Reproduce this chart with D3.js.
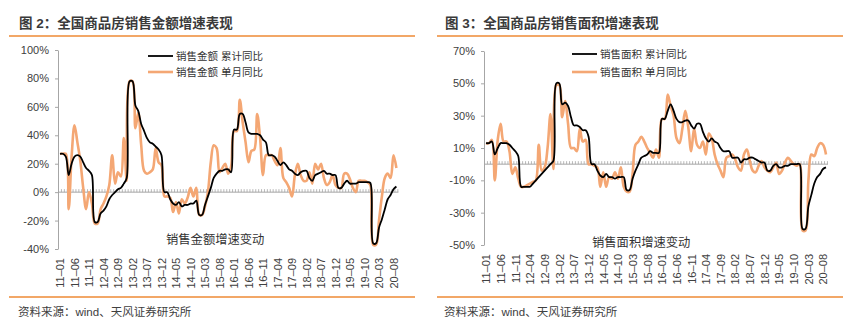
<!DOCTYPE html>
<html><head><meta charset="utf-8">
<script src="https://cdn.jsdelivr.net/npm/d3@7"></script>
<style>
body{margin:0;background:#fff;}
svg text{font-family:"Liberation Sans",Arial,"Noto Sans CJK SC",sans-serif;}
</style></head><body>
<svg id="c" width="851" height="328"></svg>
<script>
// ---- categories: monthly, 2011-01 .. 2020-09 ----
const months = d3.timeMonth.range(new Date(2011,0,1), new Date(2020,9,1));
const tickLabels = ["11–01","11–06","11–11","12–04","12–09","13–02","13–07","13–12","14–05","14–10","15–03","15–08","16–01","16–06","16–11","17–04","17–09","18–02","18–07","18–12","19–05","19–10","20–03","20–08"];

// ---- series (%), Jan shown with the Jan–Feb value ----
const amountCum = [
 27,27,25,12,20,25,26,25,21,17,15,12,
 -21,-21,-15,-13,-10,-5,-2,0,2,3,6,10,
 78,78,61,57,48,43,38,35,34,32,30,26,
 0,0,-5,-8,-9,-7,-10,-9,-9,-8,-8,-6,
 -16,-16,-9,-3,3,10,13,15,15,16,16,14,
 44,44,55,55,49,42,41,41,41,40,37,35,
 26,26,25,22,19,21,19,16,15,13,12,14,
 15,15,10,8,12,13,14,15,13,13,12,12,
 3,3,6,8,6,6,6,7,7,7,7,6.5,
 -36,-36,-25,-19,-12,-5,-2,2,4];
const amountMonth = [
 27,27,27,-12,25,47,35,22,3,-12,0,-8,
 -22,-22,-12,-8,-3,5,26,6,14,11,38,8,
 78,78,45,56,33,15,13,14,16,31,21,19,
 -3,-3,-4,-14,-7,-15,-5,-8,-4,3,-3,3,
 -16,-16,-10,0,21,33,31,14,17,20,13,18,
 43,43,65,49,35,21,29,30,55,38,12,26,
 26,26,22,19,31,10,7,3,-3,12,20,12,
 8,8,14,6,20,16,20,10,5,7,12,5,
 3,3,13,13,9,3,0,8,8,8,7,5,
 -37,-37,-20,-3,10,13,10,26,17];
const areaCum = [
 13,13,14,6,10,13,13,13,12,10,8,5,
 -14,-14,-14,-14,-12,-10,-8,-6,-4,-2,0,2,
 50,50,37,38,36,29,24,24,23,21,21,17,
 0,0,-4,-7,-8,-6,-8,-8,-9,-8,-8,-8,
 -16,-16,-9,-4,0,4,5,6,8,7,7,7,
 28,28,33,37,33,28,26,26,27,27,24,22,
 25,25,20,16,14,16,14,13,10,8,8,8,
 4,4,4,1,3,3,4,4,3,2,1,1,
 -4,-4,-1,0,-2,-2,-1,-1,0,0,0,0,
 -40,-40,-26,-19,-12,-8,-6,-3,-2];
const areaMonth = [
 13,13,15,-10,15,25,14,14,8,-6,-2,-9,
 -14,-14,-13,-12,-11,-10,12,-4,-2,10,31,-3,
 49,49,29,39,25,10,10,8,22,14,15,0,
 0,-1,-2,-14,-5,-14,-8,-9,-5,-9,-2,-14,
 -17,-17,-6,12,14,17,14,10,7,4,9,4,
 28,28,43,36,30,16,13,22,33,23,8,22,
 12,10,14,6,19,16,6,0,-4,-8,4,5,
 6,3,-2,-4,6,9,2,-4,-5,-1,2,-2,
 -4,-5,-2,1,-6,-4,1,4,2,0,-1,0,
 -41,-41,-10,6,5,10,13,12,6];

const leftCfg = {
  title:"图 2：全国商品房销售金额增速表现", panelX0:9, panelX1:415, textX:19,
  xr:[60,396.4], yr:[249,50], dom:[-40,100], yTicks:[-40,-20,0,20,40,60,80,100], axisX:58,
  cum:amountCum, mon:amountMonth, legCum:"销售金额 累计同比", legMon:"销售金额 单月同比",
  legX:148, legY:[56,72], note:"销售金额增速变动", noteX:166, noteY:244
};
const rightCfg = {
  title:"图 3：全国商品房销售面积增速表现", panelX0:437, panelX1:843, textX:445,
  xr:[486,826], yr:[245,51], dom:[-50,70], yTicks:[-50,-30,-10,10,30,50,70], axisX:484,
  cum:areaCum, mon:areaMonth, legCum:"销售面积 累计同比", legMon:"销售面积 单月同比",
  legX:572, legY:[54,72], note:"销售面积增速变动", noteX:592, noteY:247
};

const svg = d3.select("#c");
const ORANGE = "#F4A774", DIV = "#EE8A34", AX = "#A6A6A6", TXT = "#404040";

function draw(c){
  const g = svg.append("g");
  g.append("text").attr("x",c.textX).attr("y",28).text(c.title)
    .attr("font-size",13.5).attr("font-weight","bold").attr("fill","#3a3a3a");
  g.append("line").attr("x1",c.panelX0).attr("x2",c.panelX1).attr("y1",36).attr("y2",36)
    .attr("stroke",DIV).attr("stroke-width",1.5);
  g.append("line").attr("x1",c.panelX0).attr("x2",c.panelX1).attr("y1",297).attr("y2",297)
    .attr("stroke",DIV).attr("stroke-width",1.5);
  g.append("text").attr("x",c.textX-1).attr("y",316).text("资料来源：wind、天风证券研究所")
    .attr("font-size",11.5).attr("fill",TXT);

  const x = d3.scalePoint().domain(months).range(c.xr);
  const y = d3.scaleLinear().domain(c.dom).range(c.yr);

  // y axis
  const ya = g.append("g").attr("transform",`translate(${c.axisX},0)`)
    .call(d3.axisLeft(y).tickValues(c.yTicks).tickFormat(d=>d+"%").tickSize(3).tickSizeOuter(0).tickPadding(6));
  ya.select(".domain").attr("stroke",AX);
  ya.selectAll(".tick line").attr("stroke",AX);
  ya.selectAll("text").attr("font-size",11).attr("fill",TXT).attr("font-family","Liberation Sans, Arial, sans-serif");

  // zero line with monthly tick marks
  const y0 = y(0);
  g.append("line").attr("x1",c.axisX).attr("x2",c.xr[1]+2).attr("y1",y0).attr("y2",y0)
    .attr("stroke",AX).attr("stroke-width",1);
  g.append("g").selectAll("line").data(months).join("line")
    .attr("x1",d=>x(d)+1.45).attr("x2",d=>x(d)+1.45).attr("y1",y0-3).attr("y2",y0)
    .attr("stroke",AX).attr("stroke-width",0.8);

  // x axis labels (rotated)
  const tv = months.filter((d,i)=>i%5===0);
  const xa = g.append("g").attr("transform",`translate(0,${c.yr[0]})`)
    .call(d3.axisBottom(x).tickValues(tv).tickFormat((d,i)=>tickLabels[i]).tickSize(0));
  xa.select(".domain").remove();
  xa.selectAll("text").attr("transform","rotate(-90)").attr("text-anchor","end")
    .attr("x",-9).attr("y",0).attr("dy","0.35em").attr("font-size",11).attr("fill",TXT)
    .attr("font-family","Liberation Sans, Arial, sans-serif");

  // annotation
  g.append("text").attr("x",c.noteX).attr("y",c.noteY).text(c.note)
    .attr("font-size",12.3).attr("fill","#333");

  const line = d3.line().x((d,i)=>x(months[i])).y(d=>y(d)).curve(d3.curveCatmullRom.alpha(0.5));
  g.append("path").attr("d",line(c.mon)).attr("fill","none").attr("stroke",ORANGE).attr("stroke-width",2.6);
  g.append("path").attr("d",line(c.cum)).attr("fill","none").attr("stroke","#000").attr("stroke-width",1.8);

  // legend
  const lg = g.append("g");
  [[c.legCum,"#000",1.8],[c.legMon,ORANGE,2.6]].forEach((L,k)=>{
    lg.append("line").attr("x1",c.legX).attr("x2",c.legX+25).attr("y1",c.legY[k]).attr("y2",c.legY[k])
      .attr("stroke",L[1]).attr("stroke-width",L[2]);
    lg.append("text").attr("x",c.legX+28).attr("y",c.legY[k]).attr("dy","0.35em").text(L[0])
      .attr("font-size",10.5).attr("fill","#333");
  });
}
draw(leftCfg);
draw(rightCfg);
</script>
</body></html>
